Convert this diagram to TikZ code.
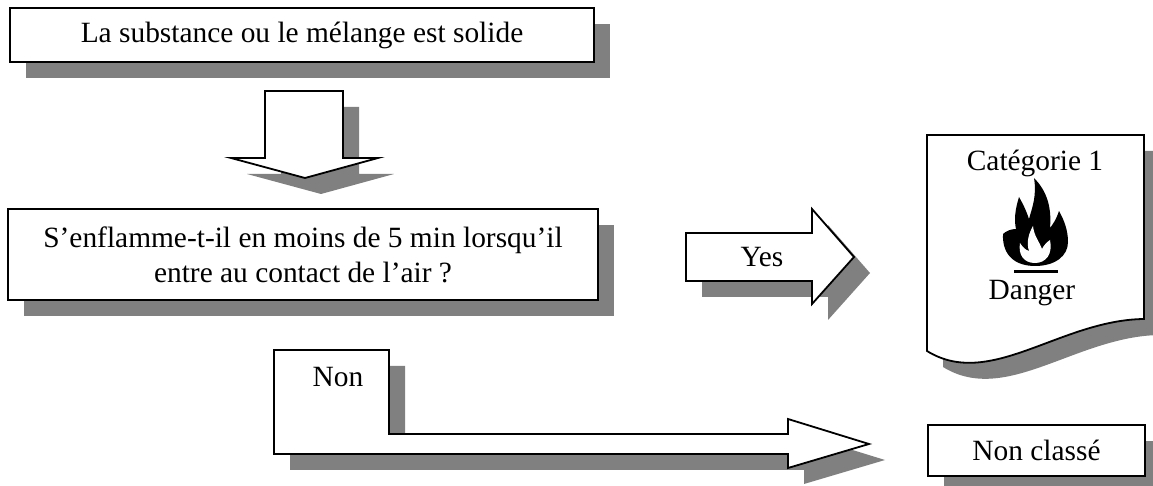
\documentclass[tikz,border=0pt]{standalone}
\usepackage{fontspec}
\setmainfont{Liberation Serif}
\usetikzlibrary{shadows}
\begin{document}
\begin{tikzpicture}[x=0.5pt, y=-0.5pt,
		every node/.style={font=\fontsize{14.7pt}{17.5pt}\selectfont},
		shadowed/.style={drop shadow={shadow xshift=8pt, shadow yshift=-8pt, opacity=1, fill=black!50}},
		blockshape/.style={draw, line width=0.9pt, fill=white, shadowed},
		box/.style={blockshape, inner sep=0pt, align=center}]
		\useasboundingbox (0,0) rectangle (1153,486);
		% boxes
		\node[box, minimum width=292pt, minimum height=27pt] (solide) at (302,35) {La substance ou le mélange est solide};
		\node[box, minimum width=295pt, minimum height=45.5pt] (question) at (303,254.5) {S’enflamme-t-il en moins de 5 min lorsqu’il\\entre au contact de l’air ?};
		\node[box, minimum width=108.5pt, minimum height=25.5pt] (nonclasse) at (1036.5,450.5) {Non classé};
		% block arrows
		\draw[blockshape] (265,91) -- (343,91) -- (343,158) -- (378,158) -- (305,178) -- (231,158) -- (265,158) -- cycle;
		\draw[blockshape] (686,233) -- (812,233) -- (812,209) -- (854,257) -- (812,304) -- (812,281) -- (686,281) -- cycle;
		\node (yes) at (762,257) {Yes};
		\draw[blockshape] (274,350) -- (389,350) -- (389,434) -- (788,434) -- (788,419) -- (869,444) -- (788,468) -- (788,454) -- (274,454) -- cycle;
		\node (non) at (338,377) {Non};
		% document with pictogram
		\draw[blockshape] (927,135) -- (1144,135) -- (1144,319) .. controls (1060,320) and (990,390) .. (927,351) -- cycle;
		\node[anchor=base] (cat) at (1035,171) {Catégorie 1};
		\fill (1035,266) .. controls (1055,266) and (1068,256) .. (1068,242)
			.. controls (1068,230) and (1064,220) .. (1059,211)
			.. controls (1056,220) and (1053,224) .. (1050,228)
			.. controls (1052,206) and (1046,190) .. (1034,178)
			.. controls (1037,196) and (1032,208) .. (1029,219)
			.. controls (1026,210) and (1023,204) .. (1019,197)
			.. controls (1015,210) and (1014,220) .. (1016,229)
			.. controls (1011,229) and (1006,231) .. (1003,234)
			.. controls (1002,256) and (1016,266) .. (1035,266) -- cycle;
		\fill[white] (1035,263) .. controls (1024,263) and (1018,255) .. (1020,243)
			.. controls (1023,248) and (1026,250) .. (1029,251)
			.. controls (1026,242) and (1029,233) .. (1033,226)
			.. controls (1034,236) and (1039,241) .. (1042,249)
			.. controls (1044,245) and (1047,242) .. (1050,240)
			.. controls (1053,254) and (1046,263) .. (1035,263) -- cycle;
		\fill (1014,270) rectangle (1058,273);
		\node[anchor=base] (danger) at (1032,300) {Danger};
\end{tikzpicture}
\end{document}
